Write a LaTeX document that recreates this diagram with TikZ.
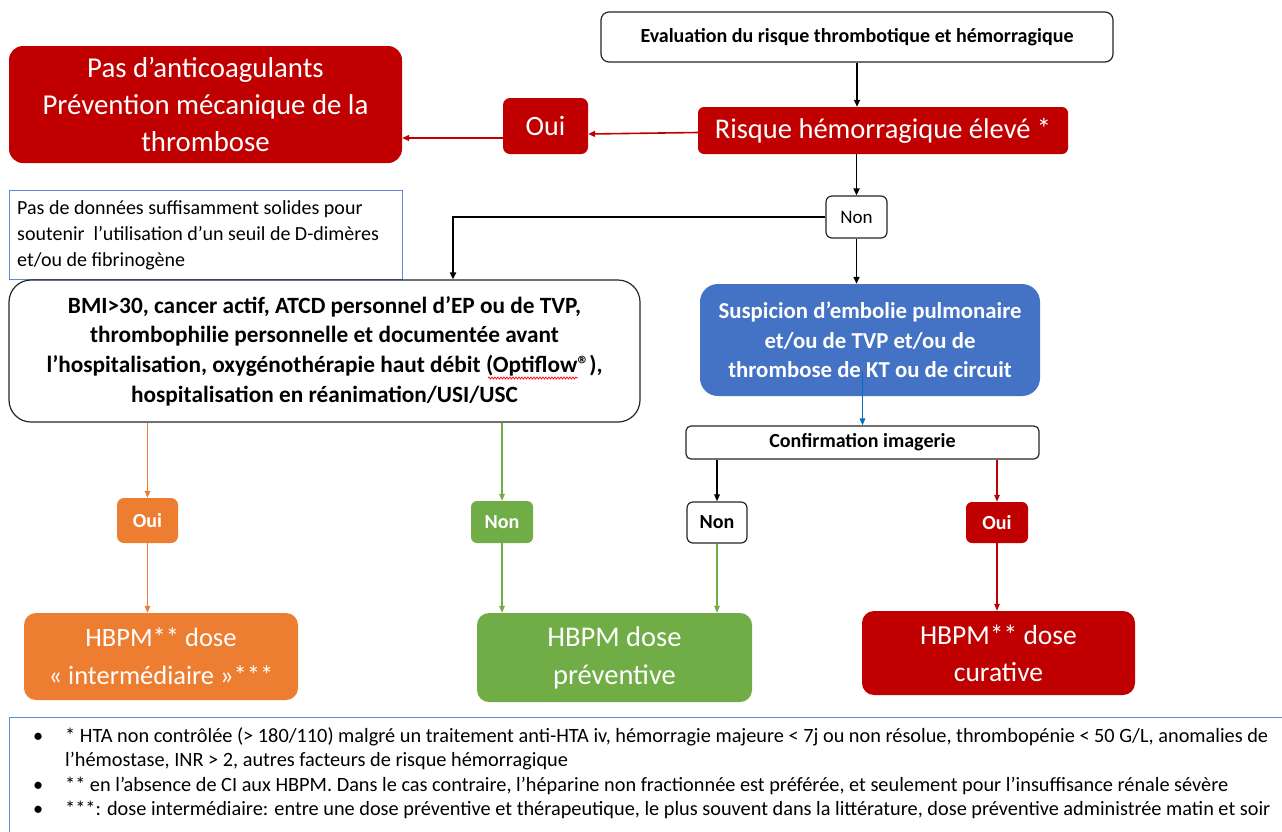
\documentclass[tikz,border=0pt]{standalone}
\usepackage{fontspec}
\setmainfont{Carlito}
\usetikzlibrary{arrows.meta,decorations.pathmorphing}
\definecolor{cred}{HTML}{C00000}
\definecolor{cblue}{HTML}{4472C4}
\definecolor{corange}{HTML}{ED7D31}
\definecolor{cgreen}{HTML}{70AD47}
\definecolor{carrowblue}{HTML}{0070C0}
\definecolor{cnoteblue}{HTML}{5B8BD6}
\tikzset{
  box/.style={rounded corners=#1, inner sep=0pt, align=center},
  box/.default=12pt,
  whitebox/.style={box=#1, draw=black!85, line width=1.2pt, fill=white, text=black},
  whitebox/.default=8pt,
  redbox/.style={box=#1, fill=cred, text=white},
  redbox/.default=12pt,
  bluebox/.style={box=#1, fill=cblue, text=white},
  bluebox/.default=18pt,
  orangebox/.style={box=#1, fill=corange, text=white},
  orangebox/.default=12pt,
  greenbox/.style={box=#1, fill=cgreen, text=white},
  greenbox/.default=12pt,
  conn/.style={line width=1.8pt, -{Triangle[length=7pt,width=6pt]}},
  thinconn/.style={line width=1.3pt, -{Triangle[length=7pt,width=5.5pt]}},
}
\begin{document}
\begin{tikzpicture}[x=1pt,y=-1pt]
\useasboundingbox (0,0) rectangle (1282,831);
\clip (0,0) rectangle (1282,831);
\fill[white] (0,0) rectangle (1282,831);

% top row
\node[whitebox=8pt, minimum width=512pt, minimum height=50pt,
      font=\fontsize{20}{24}\selectfont\bfseries] (eval) at (857,37)
  {Evaluation du risque thrombotique et hémorragique};
\node[redbox=6pt, minimum width=370pt, minimum height=47pt,
      font=\fontsize{28.5}{34}\selectfont] (risk) at (883,130.5)
  {Risque hémorragique élevé *};
\node[redbox=7pt, minimum width=85pt, minimum height=56pt,
      font=\fontsize{28}{34}\selectfont] (oui1) at (545.5,126)
  {Oui};
\node[redbox=14pt, minimum width=393pt, minimum height=117pt,
      font=\fontsize{28.8}{37}\selectfont] (pas) at (205.5,104.5)
  {Pas d’anticoagulants\\Prévention mécanique de la\\thrombose};

% note
\node[draw=cnoteblue, line width=1pt, inner sep=0pt, minimum width=393pt, minimum height=89pt] (note) at (205.5,234.5) {};
\node[anchor=north west, align=left, inner sep=0pt, text=black,
      font=\fontsize{20}{26}\selectfont] (notetext) at (17,200)
  {Pas de données suffisamment solides pour\\soutenir\ \ l’utilisation d’un seuil de D-dimères\\et/ou de fibrinogène};

\node[whitebox=6pt, minimum width=61pt, minimum height=42pt,
      font=\fontsize{19}{22}\selectfont] (non1) at (856.5,217)
  {Non};

% BMI box
\node[whitebox=22pt, minimum width=631pt, minimum height=142pt,
      font=\fontsize{23.3}{29.7}\selectfont\bfseries] (bmi) at (324.5,351)
  {BMI>30, cancer actif, ATCD personnel d’EP ou de TVP,\\thrombophilie personnelle et documentée avant\\l’hospitalisation, oxygénothérapie haut débit (Optiflow®),\\hospitalisation en réanimation/USI/USC};
% spell-check squiggle under Optiflow
\coordinate (sq1) at (488,378);
\coordinate (sq2) at (578,378);
\draw[red, line width=0.7pt, decorate, decoration={snake, amplitude=1pt, segment length=3pt}] (sq1) -- (sq2);

% suspicion
\node[bluebox=18pt, minimum width=340pt, minimum height=112pt,
      font=\fontsize{22.8}{29.5}\selectfont\bfseries] (susp) at (870,340)
  {Suspicion d’embolie pulmonaire\\et/ou de TVP et/ou de\\thrombose de KT ou de circuit};

\node[whitebox=5pt, minimum width=353pt, minimum height=33pt,
      font=\fontsize{20}{24}\selectfont\bfseries] (conf) at (862.5,442.5)
  {Confirmation imagerie};

% decision labels
\node[orangebox=7pt, minimum width=61pt, minimum height=45pt,
      font=\fontsize{20}{24}\selectfont\bfseries] (oui2) at (147.5,520.5) {Oui};
\node[greenbox=6pt, minimum width=62pt, minimum height=42pt,
      font=\fontsize{20}{24}\selectfont\bfseries] (non2) at (502,522) {Non};
\node[whitebox=6pt, minimum width=60pt, minimum height=41pt,
      font=\fontsize{20}{24}\selectfont\bfseries] (non3) at (717,522.5) {Non};
\node[redbox=6pt, minimum width=62pt, minimum height=41pt,
      font=\fontsize{20}{24}\selectfont\bfseries] (oui3) at (997,522.5) {Oui};

% outcomes
\node[orangebox=12pt, minimum width=274pt, minimum height=87pt,
      font=\fontsize{26.5}{38}\selectfont] (hbpmi) at (161,656.5)
  {HBPM** dose\\« intermédiaire »***};
\node[greenbox=12pt, minimum width=275pt, minimum height=89pt,
      font=\fontsize{28.5}{38}\selectfont] (hbpmp) at (614.5,657.5)
  {HBPM dose\\préventive};
\node[redbox=12pt, minimum width=273pt, minimum height=84pt,
      font=\fontsize{27.5}{37}\selectfont] (hbpmc) at (998.5,653)
  {HBPM** dose\\curative};

% footnotes
\node[draw=cnoteblue, line width=1pt, inner sep=0pt, minimum width=1300pt, minimum height=130pt, anchor=north west] (foot) at (9,717) {};
\node[anchor=north west, align=left, inner sep=0pt, text=black,
      font=\fontsize{20.3}{24.5}\selectfont] (foottext) at (33,727)
  {\makebox[32pt][l]{•}* HTA non contrôlée (> 180/110) malgré un traitement anti-HTA iv, hémorragie majeure < 7j ou non résolue, thrombopénie < 50 G/L, anomalies de\\
   \hspace*{32pt}l’hémostase, INR > 2, autres facteurs de risque hémorragique\\
   \makebox[32pt][l]{•}** en l’absence de CI aux HBPM. Dans le cas contraire, l’héparine non fractionnée est préférée, et seulement pour l’insuffisance rénale sévère\\
   \makebox[32pt][l]{•}***: dose intermédiaire: entre une dose préventive et thérapeutique, le plus souvent dans la littérature, dose préventive administrée matin et soir};

% connectors
\draw[conn, black] (eval.south) -- (eval.south |- risk.north);
\coordinate (rl) at ([yshift=-2pt]risk.west);
\coordinate (o1r) at ([yshift=-8pt]oui1.east);
\draw[conn, cred, line width=1.6pt] (rl) -- (o1r);
\coordinate (o1l) at ([yshift=-12pt]oui1.west);
\draw[conn, cred, line width=1.6pt] (o1l) -- (o1l -| pas.east);
\draw[conn, black] (risk.south -| non1.north) -- (non1.north);
\draw[conn, black] (non1.west) -| ([xshift=128.5pt]bmi.north);
\draw[conn, black] (non1.south) -- (non1.south |- susp.north);
\coordinate (sin) at ([yshift=24pt]susp.south -| conf.north);
\draw[thinconn, carrowblue] (sin) -- (conf.north);
\draw[thinconn, black, line width=1.6pt] (conf.south -| non3.north) -- (non3.north);
\draw[thinconn, cred] (conf.south -| oui3.north) -- (oui3.north);
\draw[thinconn, corange] (bmi.south -| oui2.north) -- (oui2.north);
\draw[thinconn, corange] (oui2.south) -- (oui2.south |- hbpmi.north);
\draw[thinconn, cgreen] (bmi.south -| non2.north) -- (non2.north);
\draw[thinconn, cgreen] (non2.south) -- (non2.south |- hbpmp.north);
\draw[thinconn, cgreen] (non3.south) -- (non3.south |- hbpmp.north);
\draw[thinconn, cred] (oui3.south) -- (oui3.south |- hbpmc.north);
\end{tikzpicture}
\end{document}
